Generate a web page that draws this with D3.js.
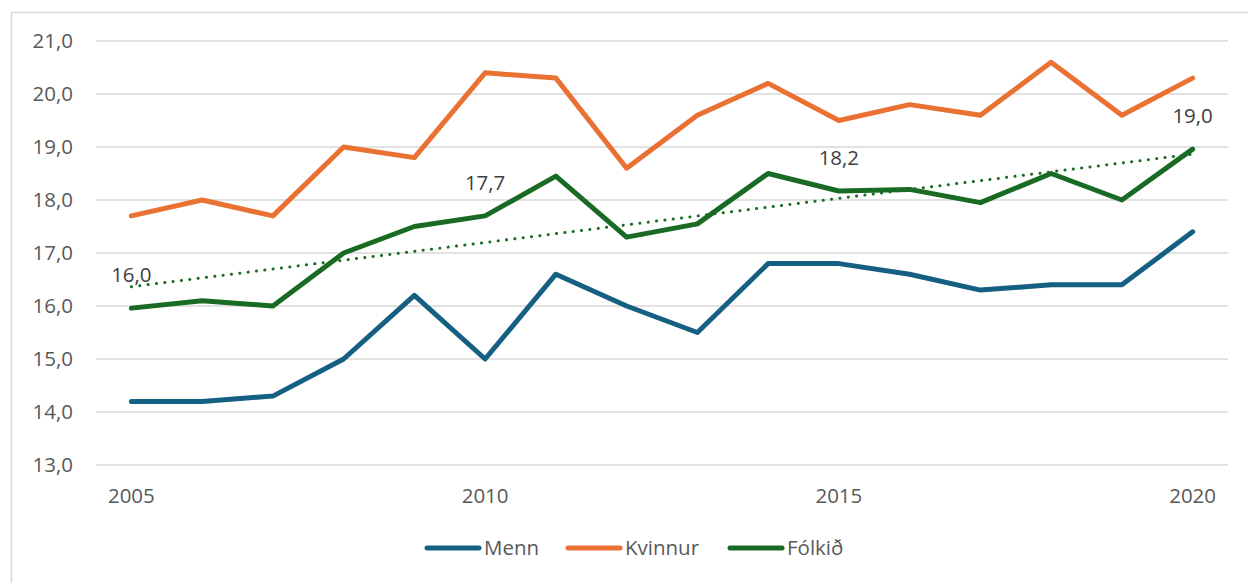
<!DOCTYPE html>
<html>
<head>
<meta charset="utf-8">
<script src="https://cdn.jsdelivr.net/npm/d3@7"></script>
<style>
  body { margin: 0; background: #fff; }
  svg { display: block; font-family: "Open Sans", "Noto Sans", sans-serif; }
</style>
</head>
<body>
<div id="chart"></div>
<script>
const years = d3.range(2005, 2021);
const menn = [14.2, 14.2, 14.3, 15.0, 16.2, 15.0, 16.6, 16.0, 15.5, 16.8, 16.8, 16.6, 16.3, 16.4, 16.4, 17.4];
const kvinnur = [17.7, 18.0, 17.7, 19.0, 18.8, 20.4, 20.3, 18.6, 19.6, 20.2, 19.5, 19.8, 19.6, 20.6, 19.6, 20.3];
const folkid = [15.96, 16.1, 16.0, 17.0, 17.5, 17.7, 18.45, 17.3, 17.55, 18.5, 18.17, 18.2, 17.95, 18.5, 18.0, 18.96];
const labelYears = [2005, 2010, 2015, 2020];
const yTicks = [13, 14, 15, 16, 17, 18, 19, 20, 21];
const xTicks = [2005, 2010, 2015, 2020];

const series = [
  { name: 'Menn', values: menn, color: '#156082' },
  { name: 'Kvinnur', values: kvinnur, color: '#e97132' },
  { name: 'Fólkið', values: folkid, color: '#196b24' }
];

const width = 1248;
const height = 583;
const margin = { top: 41, bottom: 118, left: 96, right: 20 };
const fontSize = '20.5px';

const fmt = v => d3.format('.1f')(v).replace('.', ',');

const svg = d3.select('#chart')
  .append('svg')
  .attr('width', width)
  .attr('height', height);

// frame
svg.append('rect')
  .attr('x', 11.5).attr('y', 12.5)
  .attr('width', width + 20).attr('height', height + 20)
  .attr('fill', 'none')
  .attr('stroke', '#d9d9d9')
  .attr('stroke-width', 1.5);

const x = d3.scaleLinear()
  .domain([2004.5, 2020.5])
  .range([margin.left, width - margin.right]);

const y = d3.scaleLinear()
  .domain([13, 21])
  .range([height - margin.bottom, margin.top]);

// gridlines + y labels
svg.append('g')
  .selectAll('line')
  .data(yTicks)
  .join('line')
    .attr('x1', x.range()[0])
    .attr('x2', x.range()[1])
    .attr('y1', d => y(d))
    .attr('y2', d => y(d))
    .attr('stroke', '#d9d9d9')
    .attr('stroke-width', 1.5);

svg.append('g')
  .selectAll('text')
  .data(yTicks)
  .join('text')
    .attr('x', 73)
    .attr('y', d => y(d))
    .attr('dy', '0.35em')
    .attr('text-anchor', 'end')
    .attr('font-size', fontSize)
    .attr('fill', '#595959')
    .text(d => fmt(d));

svg.append('g')
  .selectAll('text')
  .data(xTicks)
  .join('text')
    .attr('x', d => x(d))
    .attr('y', y(13) + 31)
    .attr('dy', '0.35em')
    .attr('text-anchor', 'middle')
    .attr('font-size', fontSize)
    .attr('fill', '#595959')
    .text(d => d);

// trend line (least squares on Fólkið)
const mx = d3.mean(years);
const my = d3.mean(folkid);
const slope = d3.sum(years, (yr, i) => (yr - mx) * (folkid[i] - my)) / d3.sum(years, yr => (yr - mx) ** 2);
const icpt = my - slope * mx;

svg.append('line')
  .attr('x1', x(2005)).attr('y1', y(icpt + slope * 2005))
  .attr('x2', x(2020)).attr('y2', y(icpt + slope * 2020))
  .attr('stroke', '#196b24')
  .attr('stroke-width', 3)
  .attr('stroke-linecap', 'round')
  .attr('stroke-dasharray', '0.1 8.3');

const line = d3.line()
  .x((d, i) => x(years[i]))
  .y(d => y(d));

svg.append('g')
  .selectAll('path')
  .data(series)
  .join('path')
    .attr('d', d => line(d.values))
    .attr('fill', 'none')
    .attr('stroke', d => d.color)
    .attr('stroke-width', 5)
    .attr('stroke-linejoin', 'round')
    .attr('stroke-linecap', 'round');

// data labels
svg.append('g')
  .selectAll('text')
  .data(labelYears)
  .join('text')
    .attr('x', d => x(d))
    .attr('y', d => y(folkid[years.indexOf(d)]) - 33)
    .attr('dy', '0.35em')
    .attr('text-anchor', 'middle')
    .attr('font-size', fontSize)
    .attr('fill', '#404040')
    .text(d => fmt(folkid[years.indexOf(d)]));

// legend
const legendX = [425, 566, 728];
const legend = svg.append('g')
  .selectAll('g')
  .data(series)
  .join('g')
    .attr('transform', (d, i) => `translate(${legendX[i]}, 548)`);

legend.append('line')
  .attr('x1', 2).attr('x2', 54)
  .attr('stroke', d => d.color)
  .attr('stroke-width', 5)
  .attr('stroke-linecap', 'round');

legend.append('text')
  .attr('x', 59)
  .attr('dy', '0.35em')
  .attr('font-size', fontSize)
  .attr('fill', '#595959')
  .text(d => d.name);
</script>
</body>
</html>
